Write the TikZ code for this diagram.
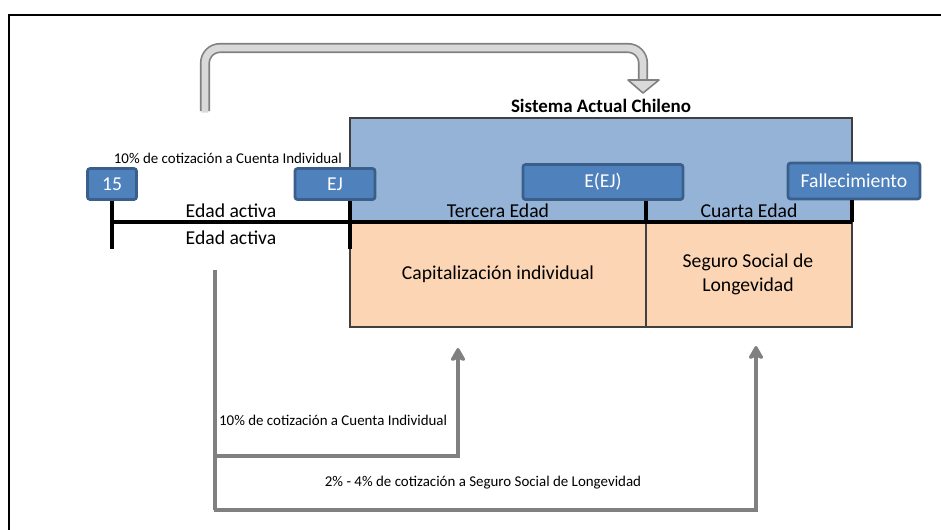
\documentclass[tikz,border=0pt]{standalone}
\usepackage{fontspec}
\setmainfont{Carlito}
\usetikzlibrary{arrows.meta,positioning,calc}
\definecolor{boxblue}{HTML}{4F81BD}
\definecolor{boxedge}{HTML}{3A5F8B}
\definecolor{skyblue}{HTML}{95B3D7}
\definecolor{peach}{HTML}{FCD5B4}
\definecolor{framegray}{HTML}{404040}
\definecolor{arrowgray}{HTML}{808080}
\definecolor{palegray}{HTML}{D9D9D9}
\tikzset{age/.style={draw=boxedge,line width=1.6pt,fill=boxblue,rounded corners=1.5pt,
    text=white,font=\fontsize{11.2}{13}\selectfont,inner sep=0pt,minimum height=0.62cm}}
\tikzset{tl/.style={line width=2.2pt,black}}
\tikzset{feed/.style={line width=2.2pt,arrowgray,
    -{Stealth[length=9pt,width=10pt,inset=2pt,round]}}}
\tikzset{lbl/.style={font=\fontsize{11.2}{13.5}\selectfont,inner sep=1pt}}
\tikzset{small/.style={font=\fontsize{8.5}{10}\selectfont,inner sep=1pt}}

\begin{document}
\begin{tikzpicture}[x=0.02cm,y=-0.02cm]
  \useasboundingbox (0,0) rectangle (941,529);
  \draw[line width=1.2pt] (9,560) |- (980,15);
  % system blocks
  \draw[framegray,line width=1pt,fill=skyblue] (350,118) rectangle (852,222);
  \draw[framegray,line width=1pt,fill=peach] (350,222) rectangle (852,327);
  \draw[framegray,line width=0.8pt] (646,222) -- (646,327);
  \node(title)[font=\bfseries\fontsize{10.8}{12}\selectfont] at (601,106) {Sistema Actual Chileno};
  \node(cap)[lbl] at (498,274) {Capitalización individual};
  \node(seg)[lbl,align=center] at (748,274) {Seguro Social de\\Longevidad};
  % age boxes
  \node(n15)[age,minimum width=0.98cm] at (112,184) {15};
  \node(ej)[age,minimum width=1.6cm] at (335,184) {EJ};
  \node(eej)[age,minimum width=3.2cm,minimum height=0.7cm] at (603,182) {E(EJ)};
  \node(fall)[age,minimum width=2.64cm,minimum height=0.72cm] at (854,181) {Fallecimiento};
  \node(quote)[small,anchor=south east] at (344,166) {10\% de cotización a Cuenta Individual};
  % timeline
  \coordinate(t0) at (112,222);
  \coordinate(t1) at (350,222);
  \coordinate(t2) at (646,222);
  \coordinate(t3) at (852,222);
  \draw[tl] (t0) -- (t3);
  \draw[tl] (n15.south) -- ++(0,48);
  \draw[tl] (t1 |- ej.south) -- ++(0,48);
  \draw[tl] (t2 |- eej.south) -- (t2);
  \draw[tl] (t3 |- fall.south) -- (t3);
  \node(act1)[lbl] at ($(t0)!0.5!(t1)+(0,-11)$) {Edad activa};
  \node(act2)[lbl] at ($(t0)!0.5!(t1)+(0,16)$) {Edad activa};
  \node(ter)[lbl] at ($(t1)!0.5!(t2)+(0,-11)$) {Tercera Edad};
  \node(cua)[lbl] at ($(t2)!0.5!(t3)+(0,-11)$) {Cuarta Edad};
  % bent arrow to the current system
  \coordinate(bend0) at (205,111);
  \coordinate(bend1) at (643,81);
  \draw[arrowgray,line width=5.8pt,rounded corners=0.3cm] (bend0) -- (bend0 |- 0,48) -- (bend1 |- 0,48) -- (bend1);
  \draw[palegray,line width=3.9pt,rounded corners=0.3cm] ([yshift=-0.03cm]bend0) -- (bend0 |- 0,48) -- (bend1 |- 0,48) -- (bend1);
  \draw[arrowgray,fill=palegray,line width=0.9pt,line join=round] (628,80) -- (659,80) -- (643,93) -- cycle;
  % contributions
  \coordinate(src) at (215,270);
  \coordinate(tocap) at (458,348);
  \coordinate(toseg) at (756,346);
  \draw[line width=2.2pt,arrowgray] (src) -- (src |- 0,510);
  \draw[feed] (src |- 0,456) -| (tocap);
  \draw[feed] ([xshift=-0.6pt]src |- 0,510) -| (toseg);
  \node(c1)[small,anchor=west] at (217,420) {10\% de cotización a Cuenta Individual};
  \node(c2)[small] at (483,483) {2\% - 4\% de cotización a Seguro Social de Longevidad};
\end{tikzpicture}
\end{document}
